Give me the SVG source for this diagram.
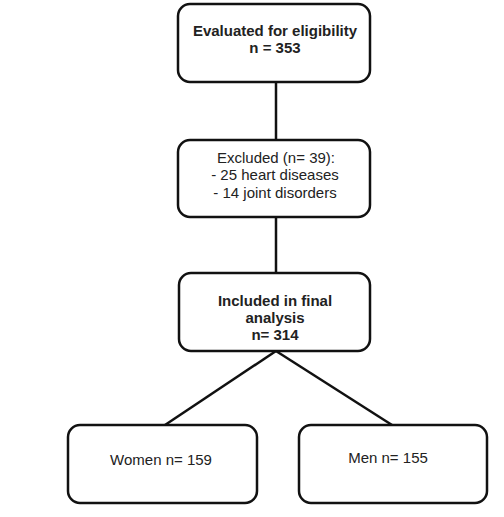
<svg xmlns="http://www.w3.org/2000/svg" width="504" height="517" viewBox="0 0 504 517">
<style>
.box{fill:#fff;stroke:#111;stroke-width:2.5}
.t{font-family:"Liberation Sans",Arial,sans-serif;font-size:15px;fill:#222;text-anchor:middle}
.b{font-weight:bold}
.c{stroke:#111;stroke-width:2.5;fill:none}
</style>
<rect width="504" height="517" fill="#fff"/>
<g id="connectors">
<line class="c" x1="276" y1="82" x2="276" y2="140"/>
<line class="c" x1="276" y1="217" x2="276" y2="273"/>
<line class="c" x1="276" y1="351" x2="165" y2="425"/>
<line class="c" x1="276" y1="351" x2="392" y2="425"/>
</g>
<g id="evaluated">
<rect class="box" x="178" y="4" width="192" height="78" rx="12"/>
<text class="t b" x="275" y="35.5">Evaluated for eligibility</text>
<text class="t b" x="275" y="52.5">n = 353</text>
</g>
<g id="excluded">
<rect class="box" x="178" y="140" width="192" height="77" rx="12"/>
<text class="t" x="276" y="162.5">Excluded (n= 39):</text>
<text class="t" x="275" y="180">- 25 heart diseases</text>
<text class="t" x="275" y="197.5">- 14 joint disorders</text>
</g>
<g id="included">
<rect class="box" x="179" y="273" width="191" height="78" rx="12"/>
<text class="t b" x="275" y="305.5">Included in final</text>
<text class="t b" x="275" y="322.5">analysis</text>
<text class="t b" x="275" y="339.5">n= 314</text>
</g>
<g id="women">
<rect class="box" x="68" y="425" width="189" height="78" rx="12"/>
<text class="t" x="161" y="464.5">Women n= 159</text>
</g>
<g id="men">
<rect class="box" x="299" y="425" width="188" height="78" rx="12"/>
<text class="t" x="388" y="462.5">Men n= 155</text>
</g>
</svg>
